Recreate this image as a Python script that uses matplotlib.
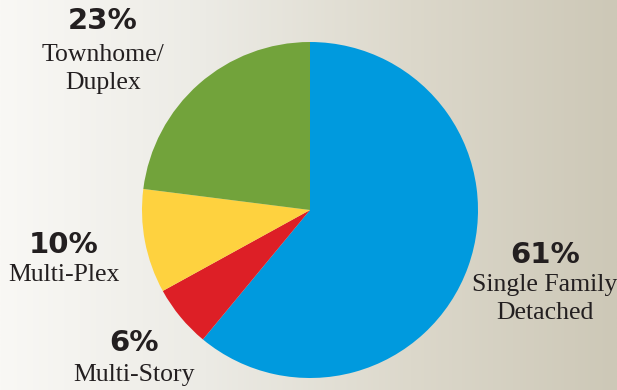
import numpy as np
import matplotlib.pyplot as plt
from matplotlib.colors import LinearSegmentedColormap

# housing type shares, clockwise from 12 o'clock
categories = ["Single Family\nDetached", "Multi-Story", "Multi-Plex", "Townhome/\nDuplex"]
shares = [61, 6, 10, 23]
colors = ["#009ade", "#dd1f26", "#fed23f", "#72a33b"]

fig = plt.figure(figsize=(6.17, 3.9), dpi=100)

# warm grey background fading in from the left
bg = fig.add_axes([0, 0, 1, 1], zorder=0)
grad = LinearSegmentedColormap.from_list("bg", ["#f9f8f5", "#ecebe5", "#dcd8cb", "#cdc8b7"])
bg.imshow(np.linspace(0, 1, 256)[None, :], cmap=grad, aspect="auto", extent=[0, 1, 0, 1])
bg.axis("off")

W, H = 617, 390
cx, cy, r = 310, 210, 168
ax = fig.add_axes([(cx - r) / W, 1 - (cy + r) / H, 2 * r / W, 2 * r / H], zorder=1)
ax.pie(shares, colors=colors, startangle=90, counterclock=False,
       wedgeprops=dict(linewidth=0))
ax.set_xlim(-1, 1)
ax.set_ylim(-1, 1)
ax.set_aspect("equal")

pct_font = dict(family="DejaVu Sans", weight="bold", size=21, color="#231f20")
lbl_font = dict(family="Liberation Serif", size=18.5, color="#231f20")

# pixel anchors: centre x, percentage y, first label line y
spots = {
    "Single Family\nDetached": (545, 255, 285),
    "Multi-Story": (134, 343, 375),
    "Multi-Plex": (64, 245, 275),
    "Townhome/\nDuplex": (103, 21, 55),
}
for name, val in zip(categories, shares):
    x, yp, yl = spots[name]
    fig.text(x / W, 1 - yp / H, f"{val}%", ha="center", va="center", **pct_font)
    for i, line in enumerate(name.split("\n")):
        fig.text(x / W, 1 - (yl + 28 * i) / H, line, ha="center", va="center", **lbl_font)

fig.savefig("out.png", dpi=100)
